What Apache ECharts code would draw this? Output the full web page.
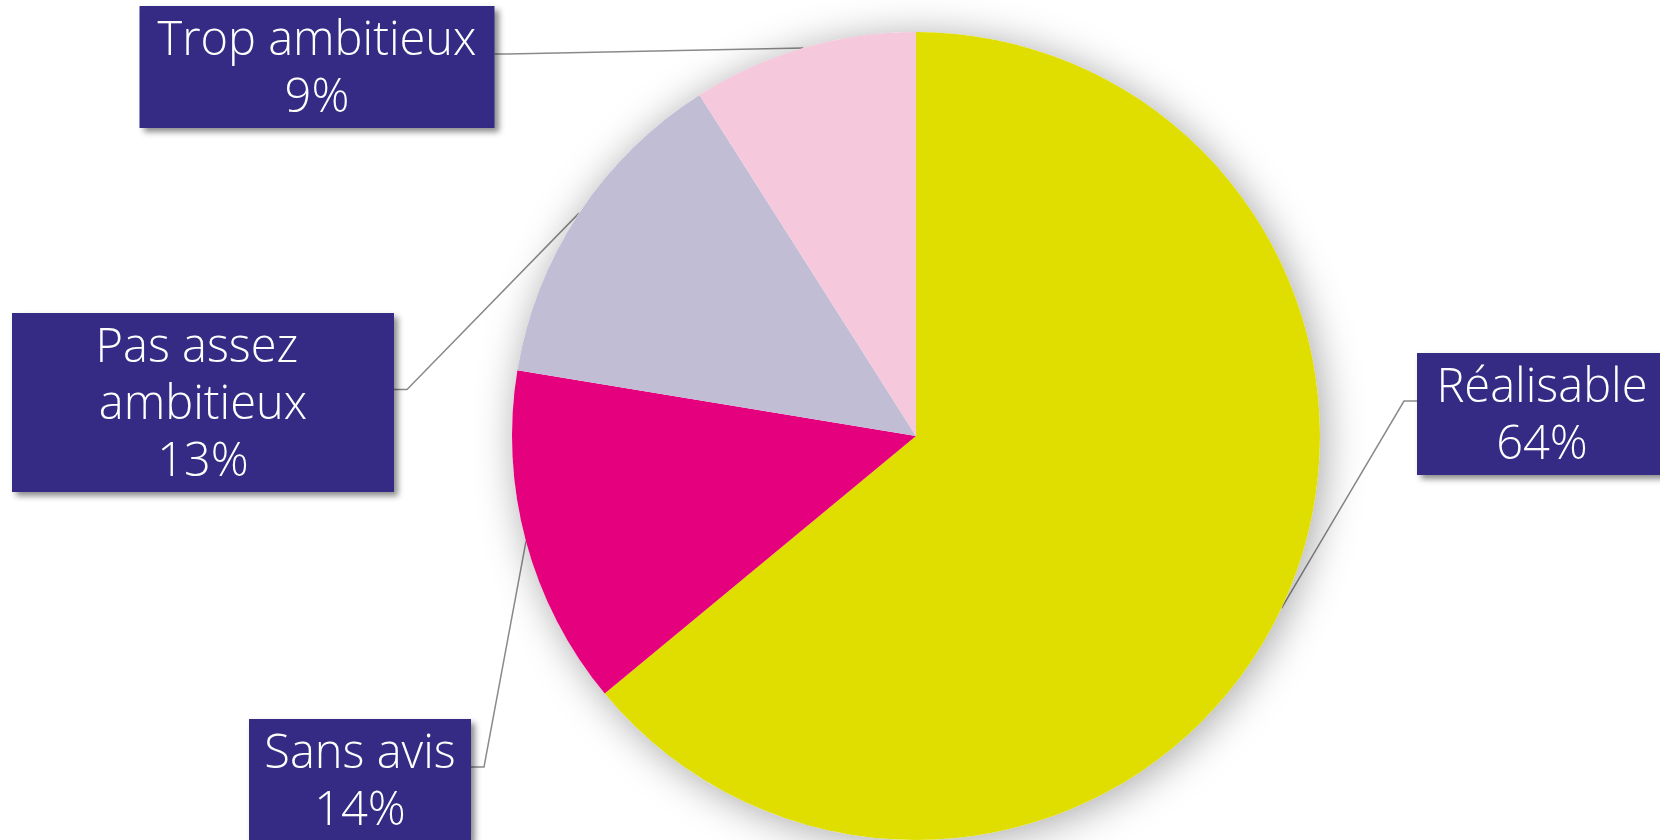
<!DOCTYPE html>
<html>
<head>
<meta charset="utf-8">
<script src="https://cdn.jsdelivr.net/npm/echarts@6/dist/echarts.min.js"></script>
<style>
  html, body { margin: 0; padding: 0; background: #fff; }
  #chart { width: 1660px; height: 840px; }
</style>
</head>
<body>
<div id="chart"></div>
<script>
// données (parts estimées d'après les angles, arrondies dans les étiquettes)
const categories = ['Réalisable', 'Sans avis', 'Pas assez ambitieux', 'Trop ambitieux'];
const values = [64, 13.6, 13.4, 9];
const colors = ['#DFDE00', '#E5007D', '#C1BDD5', '#F6C8DC'];

// placement des étiquettes (centre x, haut, largeur de la boîte)
const labelBoxes = [
  { cx: 1542, top: 353, w: 250 },
  { cx: 360, top: 719, w: 222 },
  { cx: 203, top: 313, w: 382 },
  { cx: 317, top: 6, w: 355 },
];
const pieCenter = [916, 436];
const pieRadius = 404;

const total = values.reduce((a, b) => a + b, 0);

const chart = echarts.init(document.getElementById('chart'));

chart.setOption({
  animation: false,
  series: [
    {
      // disque derrière, seulement pour l'ombre
      type: 'pie',
      silent: true,
      center: pieCenter,
      radius: pieRadius,
      label: { show: false },
      labelLine: { show: false },
      itemStyle: {
        color: '#ffffff',
        shadowBlur: 40,
        shadowOffsetX: 4,
        shadowOffsetY: 4,
        shadowColor: 'rgba(0,0,0,0.35)',
      },
      data: [{ value: total, name: '' }],
    },
    {
      type: 'pie',
      center: pieCenter,
      radius: pieRadius,
      startAngle: 90,
      clockwise: true,
      avoidLabelOverlap: false,
      itemStyle: { borderWidth: 0 },
      label: {
        show: true,
        formatter: (p) => p.name + '\n' + Math.round(p.percent) + '%',
        fontFamily: 'Open Sans',
        fontWeight: 300,
        fontSize: 47,
        lineHeight: 57,
        color: '#ffffff',
        backgroundColor: '#352B84',
        padding: [7, 0, 1, 0],
        overflow: 'break',
        align: 'center',
        shadowBlur: 6,
        shadowOffsetX: 4,
        shadowOffsetY: 4,
        shadowColor: 'rgba(0,0,0,0.45)',
      },
      labelLine: {
        show: true,
        lineStyle: { color: '#8a8a8a', width: 1.5 },
      },
      labelLayout: function (p) {
        const b = labelBoxes[p.dataIndex];
        const h = p.labelRect.height;
        const leftSide = b.cx < pieCenter[0];
        const edgeX = leftSide ? b.cx + b.w / 2 : b.cx - b.w / 2;
        const ey = b.top + h / 2 - 13;
        const start = p.labelLinePoints ? p.labelLinePoints[0] : [edgeX, ey];
        return {
          x: b.cx,
          y: b.top,
          align: 'center',
          verticalAlign: 'top',
          labelLinePoints: [start, [edgeX + (leftSide ? 13 : -13), ey], [edgeX, ey]],
        };
      },
      data: categories.map((name, i) => ({
        name: name,
        value: values[i],
        itemStyle: { color: colors[i] },
        label: { width: labelBoxes[i].w },
      })),
    },
  ],
});
</script>
</body>
</html>
